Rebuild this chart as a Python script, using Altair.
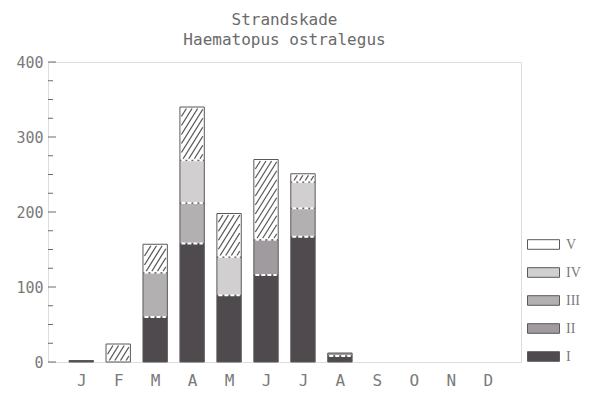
import altair as alt
import pandas as pd

# Monthly counts of Strandskade (oystercatcher), stacked by class I-V
months = ["J", "F", "M", "A", "M", "J", "J", "A", "S", "O", "N", "D"]
series = ["I", "II", "III", "IV", "V"]
val_I = [2, 0, 60, 158, 89, 116, 167, 8, 0, 0, 0, 0]
val_II = [0, 0, 0, 0, 0, 47, 0, 4, 0, 0, 0, 0]
val_III = [0, 0, 59, 54, 0, 0, 38, 0, 0, 0, 0, 0]
val_IV = [0, 0, 0, 57, 51, 0, 35, 0, 0, 0, 0, 0]
val_V = [0, 24, 38, 71, 58, 107, 11, 0, 0, 0, 0, 0]
y_labels = [0, 100, 200, 300, 400]
y_ticks = list(range(0, 401, 25))

legend_order = ["V", "IV", "III", "II", "I"]
fills = ["#ffffff", "#d2cfd1", "#b3b0b2", "#a09b9e", "#4f4a4d"]

W, H = 473, 300
X_LO, X_HI = 0.1, 12.9
Y_MAX = 400
HALF = 0.33
kx = W / (X_HI - X_LO)  # pixels per month unit
ky = H / Y_MAX          # pixels per count unit

# stacked segments, class I at the bottom
rows = []
for i in range(len(months)):
    base = 0
    for name, vals in zip(series, [val_I, val_II, val_III, val_IV, val_V]):
        v = vals[i]
        if v > 0:
            rows.append(dict(month=i + 1, series=name, y0=base, y1=base + v,
                             x0=i + 1 - HALF, x1=i + 1 + HALF))
            base += v
seg = pd.DataFrame(rows)

# white dashed borders between stacked segments
sep = []
for m, grp in seg.groupby("month"):
    grp = grp.sort_values("y0")
    for r in list(grp.itertuples())[:-1]:
        sep.append(dict(sx0=r.x0 + 1.5 / kx, sx1=r.x1 - 1.5 / kx, sy=r.y1))
sep = pd.DataFrame(sep)

# diagonal hatching inside the class V segments
hatch = []
slope, step, inset = 1.6, 9.0, 1.5
for r in seg[seg.series == "V"].itertuples():
    wpx = (r.x1 - r.x0) * kx - 2 * inset
    hpx = (r.y1 - r.y0) * ky - 2 * inset
    c = -slope * wpx + step / 2
    while c < hpx:
        u0 = max(0.0, -c / slope)
        u1 = min(wpx, (hpx - c) / slope)
        if u1 - u0 > 0.8:
            hatch.append(dict(
                hx0=r.x0 + (u0 + inset) / kx,
                hy0=r.y0 + (slope * u0 + c + inset) / ky,
                hx1=r.x0 + (u1 + inset) / kx,
                hy1=r.y0 + (slope * u1 + c + inset) / ky,
            ))
        c += step
hatch = pd.DataFrame(hatch)

ticks = pd.DataFrame({"v": y_ticks})

xs = alt.Scale(domain=[X_LO, X_HI], nice=False, zero=False)
ys = alt.Scale(domain=[0, Y_MAX], nice=False)

month_expr = "[" + ",".join("'%s'" % m for m in months) + "][datum.value - 1]"

x_axis = alt.Axis(values=list(range(1, 13)), labelExpr=month_expr, ticks=False,
                  domain=False, grid=False, labelFlush=False,
                  labelFont="DejaVu Sans Mono", labelFontSize=16,
                  labelColor="#7a7a7a", labelPadding=10, title=None)
y_axis = alt.Axis(values=y_labels, ticks=False, domain=False, grid=False,
                  labelFont="DejaVu Sans Mono", labelFontSize=15,
                  labelColor="#7a7a7a", labelPadding=5, title=None)

bars = alt.Chart(seg).mark_rect(stroke="#5b585a", strokeWidth=1).encode(
    x=alt.X("x0:Q", scale=xs, axis=x_axis),
    x2="x1:Q",
    y=alt.Y("y0:Q", scale=ys, axis=y_axis),
    y2="y1:Q",
    fill=alt.Fill("series:N", scale=alt.Scale(domain=legend_order, range=fills),
                  legend=alt.Legend(orient="none", legendX=479, legendY=166,
                                    title=None,
                                    symbolType="M-1,-0.3H1V0.3H-1Z",
                                    symbolSize=1024,
                                    symbolStrokeColor="#5b585a",
                                    symbolStrokeWidth=1,
                                    symbolOpacity=1,
                                    labelFont="Liberation Serif",
                                    labelFontSize=14, labelColor="#7a7a7a",
                                    labelOffset=6, rowPadding=4)),
)

hatch_lines = alt.Chart(hatch).mark_rule(color="#5a5a5a", strokeWidth=1.3).encode(
    x=alt.X("hx0:Q", scale=xs), x2="hx1:Q",
    y=alt.Y("hy0:Q", scale=ys), y2="hy1:Q",
)

seps = alt.Chart(sep).mark_rule(color="white", strokeWidth=2, strokeDash=[4, 2]).encode(
    x=alt.X("sx0:Q", scale=xs), x2="sx1:Q",
    y=alt.Y("sy:Q", scale=ys),
)

major = alt.Chart(ticks).transform_filter("datum.v % 100 == 0").mark_rule(
    color="#6b6b6b", strokeWidth=1).encode(
    y=alt.Y("v:Q", scale=ys), x=alt.value(0), x2=alt.value(8))
minor = alt.Chart(ticks).transform_filter("datum.v % 100 != 0").mark_rule(
    color="#6b6b6b", strokeWidth=1).encode(
    y=alt.Y("v:Q", scale=ys), x=alt.value(0), x2=alt.value(5))

chart = alt.layer(bars, hatch_lines, seps, major, minor).properties(
    width=W, height=H,
    autosize=alt.AutoSizeParams(type="none"),
    padding={"left": 48, "top": 62, "right": 75, "bottom": 34},
    title=alt.TitleParams(text=["Strandskade", "Haematopus ostralegus"],
                          font="DejaVu Sans Mono", fontSize=16,
                          fontWeight="normal", color="#6a6a6a",
                          anchor="middle", offset=7, lineHeight=20),
).configure_view(stroke="#6b6b6b", strokeWidth=1.2).configure(background="white")

chart.save("out.html", embed_options={"renderer": "svg", "actions": False})
